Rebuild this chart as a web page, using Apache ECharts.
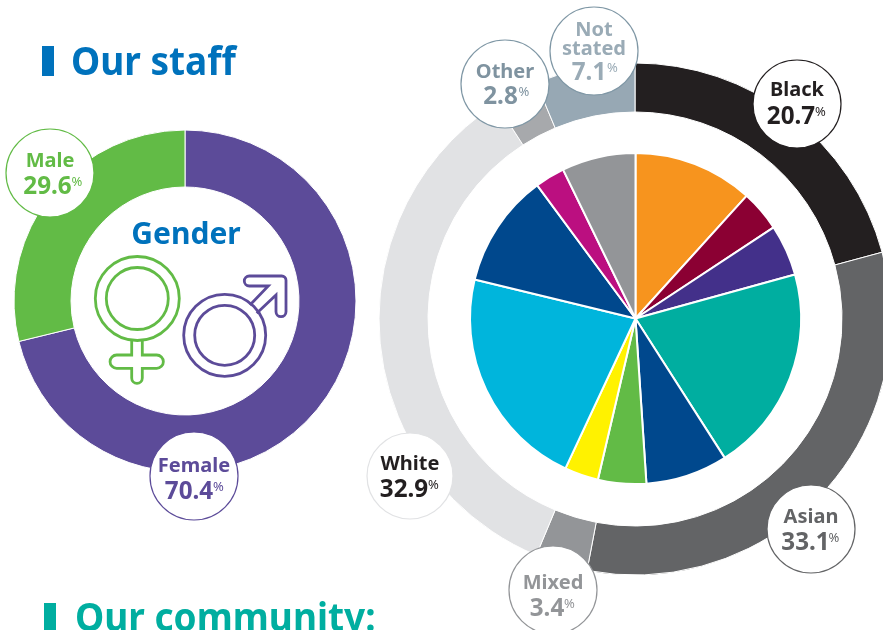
<!DOCTYPE html>
<html><head><meta charset="utf-8">
<style>html,body{margin:0;padding:0;background:#fff}#c{width:883px;height:630px}</style>
<script src="https://cdn.jsdelivr.net/npm/echarts@6/dist/echarts.min.js"></script>
</head><body><div id="c"></div>
<script>
const genderNames = ['Female', 'Male'];
const genderLabels = [70.4, 29.6];      // printed on the chart
const genderArcs = [71.2, 28.8];        // arc shares as drawn in the picture
const genderColors = ['#5C4B99', '#62BB46'];
const ethnicNames = ['Black', 'Asian', 'Mixed', 'White', 'Other', 'Not stated'];
const ethnicLabels = [20.7, 33.1, 3.4, 32.9, 2.8, 7.1]; // printed on the chart
const ethnicArcs = [20.8, 32.2, 3.3, 34.6, 2.8, 6.3];   // arc shares as drawn in the picture
const ethnicColors = ['#231F20', '#636466', '#939598', '#E1E2E4', '#A7A9AC', '#97A8B4'];
const communityNames = ['A','B','C','D','E','F','G','H','I','J','K'];
const communityValues = [11.7, 4.0, 5.0, 20.2, 8.0, 4.7, 3.3, 21.8, 11.1, 2.9, 7.2];
const communityColors = ['#F7941E','#8B0033','#43308A','#00AEA0','#00488D','#62BB46','#FFF200','#00B5DC','#00488D','#BB0F80','#939598'];
const titles = ['Our staff', 'Our community:', 'Gender'];

const FONT = '"Noto Sans"';
function pie(names, values, colors, center, radius, bw) {
  return {
    type: 'pie', center, radius, startAngle: 90, clockwise: true, silent: true,
    animation: false, label: {show: false}, labelLine: {show: false},
    itemStyle: {borderColor: '#fff', borderWidth: bw},
    data: names.map((n, i) => ({name: n, value: values[i], itemStyle: {color: colors[i]}}))
  };
}
function bubble(cx, cy, lines, value, o) {
  const els = [{
    type: 'circle', z: 10, shape: {cx, cy, r: o.r || 44},
    style: {fill: '#fff', stroke: o.border, lineWidth: 1.2}
  }];
  lines.forEach((t, i) => els.push({
    type: 'text', z: 11, x: cx + (o.nx || 0), y: cy + o.n[i] + 1,
    style: {text: t, fill: o.color, font: `700 20px ${FONT}`, align: 'center', verticalAlign: 'middle'}
  }));
  const vx = cx + o.vx;
  els.push({type: 'text', z: 11, x: vx, y: cy + o.v + 0.5, scaleX: 0.97,
    style: {text: String(value), fill: o.color, font: `700 25px ${FONT}`, align: 'center', verticalAlign: 'middle'}});
  els.push({type: 'text', z: 11, x: vx + o.px, y: cy + o.v - 4,
    style: {text: '%', fill: o.color, font: `400 13px ${FONT}`, align: 'left', verticalAlign: 'middle'}});
  return els;
}
const femalePath = 'M131.7 340 V355 H116.7 A6.6 6.6 0 0 0 116.7 368.3 H131.7 V378 A5.3 5.3 0 0 0 142.3 378 V368.3 H156.7 A6.6 6.6 0 0 0 156.7 355 H142.3 V340';
const malePath = 'M250 305 L268.3 286 H249.3 A5 5 0 0 1 249.3 276 H281.7 A4.3 4.3 0 0 1 286 280.3 V311.7 A5 5 0 0 1 276 311.7 V295 L256.7 313.3';
function ring(cx, cy, r1, r2, color) {
  return [r1, r2].map(r => ({type: 'circle', z: 5, shape: {cx, cy, r}, style: {fill: 'none', stroke: color, lineWidth: 2.8}}));
}
const graphics = [
  {type: 'rect', shape: {x: 42, y: 46, width: 12, height: 30}, style: {fill: '#0072BC'}},
  {type: 'text', x: 71, y: 64, scaleX: 0.925, style: {text: titles[0], fill: '#0072BC', font: `700 40px ${FONT}`, verticalAlign: 'middle'}},
  {type: 'rect', shape: {x: 44, y: 603, width: 12, height: 30}, style: {fill: '#00AEA0'}},
  {type: 'text', x: 75, y: 620, scaleX: 0.925, style: {text: titles[1], fill: '#00AEA0', font: `700 40px ${FONT}`, verticalAlign: 'middle'}},
  {type: 'text', x: 186, y: 235, z: 5, style: {text: titles[2], fill: '#0072BC', font: `700 30px ${FONT}`, align: 'center', verticalAlign: 'middle'}},
  ...ring(137.3, 298.5, 42, 31, '#62BB46'),
  ...ring(224.7, 335.3, 41, 30, '#5C4B99'),
  ...bubble(50, 173, ['Male'], genderLabels[1], {border: '#62BB46', color: '#62BB46', n: [-12.5], v: 13, vx: -2.5, px: 24}),
  ...bubble(194, 476, ['Female'], genderLabels[0], {border: '#5C4B99', color: '#5C4B99', n: [-10.5], v: 15, vx: -5, px: 24}),
  ...bubble(797, 104, ['Black'], ethnicLabels[0], {border: '#231F20', color: '#231F20', n: [-14.5], v: 12, vx: -6, px: 24}),
  ...bubble(811, 529, ['Asian'], ethnicLabels[1], {border: '#636466', color: '#636466', n: [-13], v: 13, vx: -5.5, px: 23}),
  ...bubble(553, 590, ['Mixed'], ethnicLabels[2], {border: '#939598', color: '#939598', n: [-8], v: 18, vx: -6, px: 17}),
  ...bubble(410, 476, ['White'], ethnicLabels[3], {border: '#E1E2E4', color: '#231F20', r: 43, n: [-12.5], v: 13, vx: -6, px: 24}),
  ...bubble(505, 84, ['Other'], ethnicLabels[4], {border: '#7F97A5', color: '#7F93A0', n: [-13], v: 12.5, vx: -4.5, px: 18}),
  ...bubble(594, 51, ['Not', 'stated'], ethnicLabels[5], {border: '#7F97A5', color: '#9AABB6', n: [-22, -3], v: 21, vx: -5, px: 18})
];
const symbols = {
  type: 'custom', coordinateSystem: 'none', silent: true, animation: false, z: 6, clip: false,
  data: [[0]],
  renderItem: () => ({type: 'group', children: [
    {type: 'path', shape: {pathData: femalePath}, style: {fill: 'none', stroke: '#62BB46', lineWidth: 2.8}},
    {type: 'path', shape: {pathData: malePath}, style: {fill: 'none', stroke: '#5C4B99', lineWidth: 2.8}}
  ]})
};
const chart = echarts.init(document.getElementById('c'), null, {renderer: 'canvas'});
chart.setOption({
  animation: false, backgroundColor: '#fff',
  graphic: {elements: graphics},
  series: [
    pie(genderNames, genderArcs, genderColors, [185, 301], [114, 171], 1),
    pie(ethnicNames, ethnicArcs, ethnicColors, [635, 319], [207, 256], 1),
    pie(communityNames, communityValues, communityColors, [635.5, 318.5], [0, 165.5], 2),
    symbols
  ]
});
</script></body></html>
